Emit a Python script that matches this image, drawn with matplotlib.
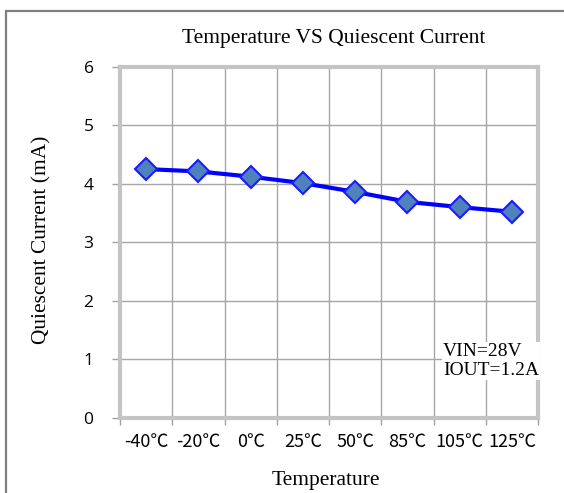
import matplotlib
matplotlib.use("Agg")
import matplotlib.pyplot as plt
from matplotlib.patches import Rectangle

categories = ["-40℃", "-20℃", "0℃", "25℃", "50℃", "85℃", "105℃", "125℃"]
current_mA = [4.25, 4.21, 4.12, 4.01, 3.86, 3.69, 3.60, 3.52]
y_ticks = [0, 1, 2, 3, 4, 5, 6]

fig = plt.figure(figsize=(5.64, 4.93), dpi=100)
fig.patch.set_facecolor("white")
# outer border
fig.add_artist(Rectangle((5.5 / 564, -0.05), 1.1, 1 - 11 / 493 + 0.05,
                         transform=fig.transFigure, fill=False,
                         edgecolor="#7f7f7f", linewidth=1.6))

ax = fig.add_axes([120 / 564, 1 - 417.7 / 493, (538 - 120) / 564, (417.7 - 66.7) / 493])
x = list(range(len(categories)))
ax.plot(x, current_mA, color="#0000ff", linewidth=3, marker="D",
        markersize=11, markerfacecolor="#4f81bd", markeredgecolor="#1a1aff",
        markeredgewidth=1.5, zorder=5)

ax.set_xlim(-0.5, len(categories) - 0.5)
ax.set_ylim(0, 6)
ax.set_yticks(y_ticks)
ax.set_yticklabels([str(v) for v in y_ticks], family=["Open Sans", "DejaVu Sans"], fontsize=12.5)
ax.set_xticks([i - 0.5 for i in range(len(categories) + 1)])
ax.set_xticklabels([])
ax.set_xticks(x, minor=True)
ax.set_xticklabels(categories, minor=True, family=["Noto Sans CJK SC", "DejaVu Sans"], fontsize=13)
ax.tick_params(axis="x", which="minor", length=0, pad=11)
ax.tick_params(axis="x", which="major", length=5, color="#a0a0a0", width=1)
ax.tick_params(axis="y", length=6, color="#a0a0a0", width=1, pad=13)
ax.grid(True, which="major", color="#a6a6a6", linewidth=1)
ax.set_axisbelow(True)
for s in ax.spines.values():
    s.set_color("#c4c4c4")
    s.set_linewidth(3)

fig.text(334 / 564, 1 - 38 / 493, "Temperature VS Quiescent Current",
         family="Liberation Serif", fontsize=15.5, ha="center", va="center", color="black")
fig.text(42 / 564, 1 - 240 / 493, "Quiescent Current (mA)", rotation=90,
         family="Liberation Serif", fontsize=15.4, ha="center", va="center", color="black")
fig.text(326 / 564, 1 - 480 / 493, "Temperature",
         family="Liberation Serif", fontsize=15.5, ha="center", va="center", color="black")
ax.text(5.68, 0.97, "VIN=28V\nIOUT=1.2A", family="Liberation Serif", fontsize=14,
        ha="left", va="center", color="black", linespacing=1.15,
        bbox=dict(facecolor="white", edgecolor="none", pad=0.5), zorder=4)

fig.savefig("out.png", dpi=100)
